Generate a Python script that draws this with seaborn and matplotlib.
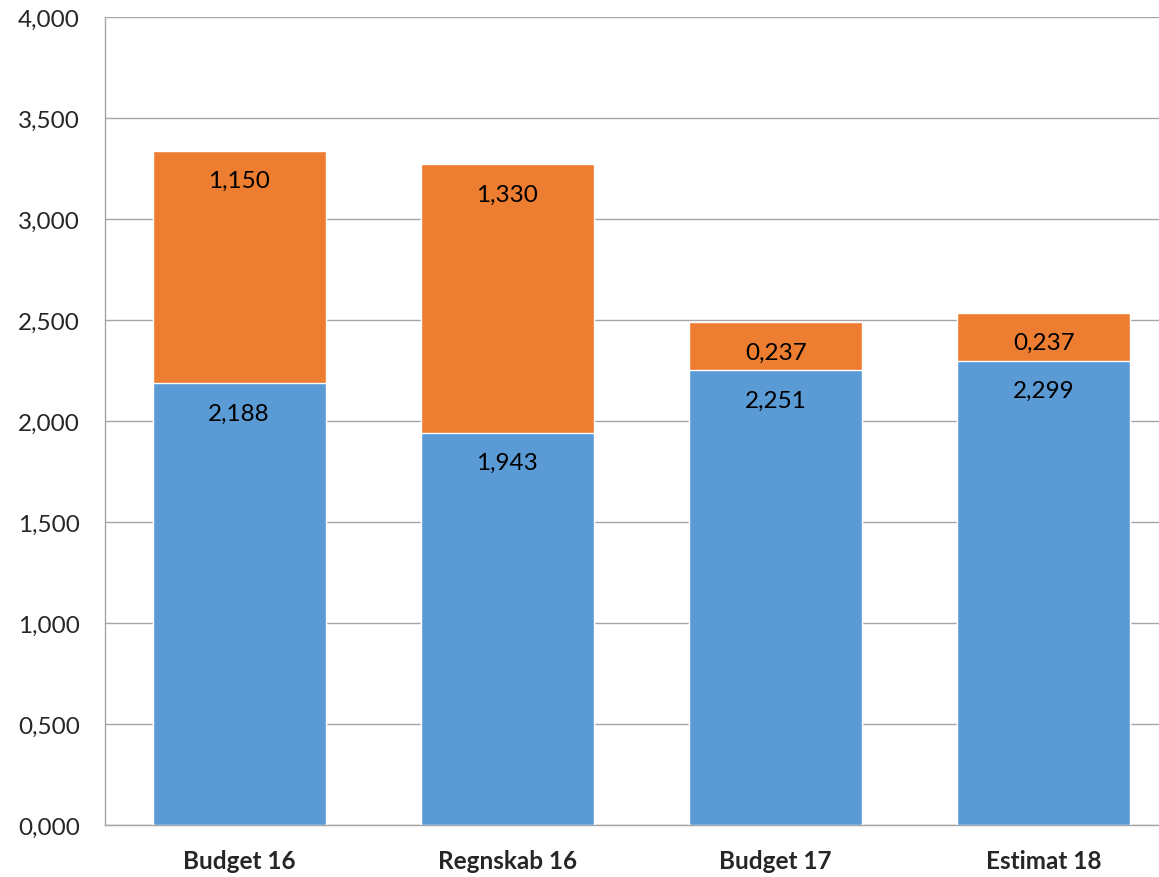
import matplotlib
matplotlib.use("Agg")
import matplotlib.pyplot as plt
import seaborn as sns
import pandas as pd

categories = ["Budget 16", "Regnskab 16", "Budget 17", "Estimat 18"]
blue_values = [2.188, 1.943, 2.251, 2.299]
orange_values = [1.150, 1.330, 0.237, 0.237]
y_ticks = [0, 0.5, 1.0, 1.5, 2.0, 2.5, 3.0, 3.5, 4.0]

sns.set_theme(style="white")
plt.rcParams['font.family'] = ['Lato', 'DejaVu Sans']

df = pd.DataFrame({"cat": categories, "blue": blue_values, "orange": orange_values})
df["total"] = df["blue"] + df["orange"]

fig = plt.figure(figsize=(11.59, 8.78), dpi=100)
ax = fig.add_axes([105/1159, 1 - 826/878, 1073/1159, (826 - 18)/878])

sns.barplot(data=df, x="cat", y="total", color="#ED7D31", width=0.645,
            saturation=1, ax=ax, zorder=2)
sns.barplot(data=df, x="cat", y="blue", color="#5B9BD5", width=0.645,
            saturation=1, ax=ax, zorder=3)

def fmt(v):
    return f"{v:.3f}".replace(".", ",")

fs = 17.5
for i, (b, o) in enumerate(zip(blue_values, orange_values)):
    ax.annotate(fmt(b), (i, b), xytext=(0, -21.6), textcoords="offset points",
                ha="center", va="center", fontsize=fs, color="black", zorder=5)
    ax.annotate(fmt(o), (i, b + o), xytext=(0, -21.6), textcoords="offset points",
                ha="center", va="center", fontsize=fs, color="black", zorder=5)

ax.set_ylim(0, 4.0)
ax.set_xlim(-0.5, 3.5)
ax.set_yticks(y_ticks)
ax.set_yticklabels([fmt(t) for t in y_ticks], fontsize=fs)
ax.set_xticks(range(len(categories)))
ax.set_xticklabels(categories, fontsize=fs, fontweight="bold")
ax.set_xlabel("")
ax.set_ylabel("")
ax.yaxis.grid(True, color="#A6A6A6", linewidth=1)
ax.set_axisbelow(True)
for s in ["top", "right"]:
    ax.spines[s].set_visible(False)
for s in ["left", "bottom"]:
    ax.spines[s].set_color("#A6A6A6")
    ax.spines[s].set_linewidth(1)
ax.tick_params(axis="y", length=0, pad=18)
ax.tick_params(axis="x", length=0, pad=17)

fig.savefig("out.png", dpi=100)
